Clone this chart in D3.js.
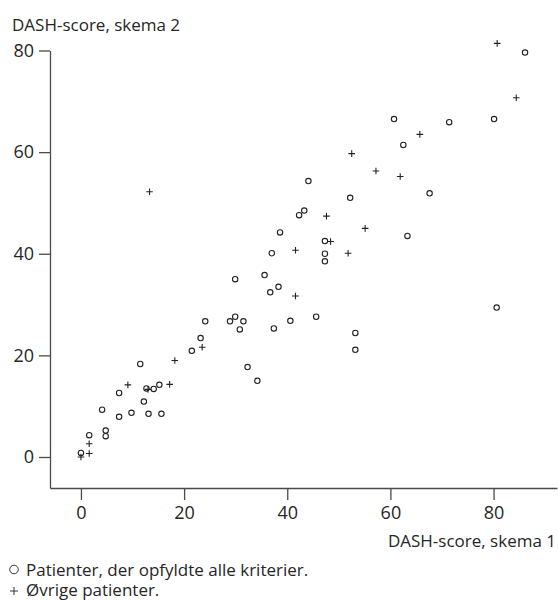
<!DOCTYPE html>
<html>
<head>
<meta charset="utf-8">
<script src="https://cdn.jsdelivr.net/npm/d3@7"></script>
<style>
  body { margin: 0; background: #fff; }
  text { font-family: "Open Sans", sans-serif; fill: #262626; }
</style>
</head>
<body>
<div id="chart"></div>
<script>
// Patients who met all criteria (circles)
var metX = [0, 1.6, 4.8, 4.8, 4.1, 7.4, 7.4, 9.8, 11.5, 12.2, 12.7, 14.1, 13.1, 15.2, 15.6,
  21.5, 23.2, 32.3, 34.2, 24.1, 28.9, 29.9, 31.5, 30.8, 37.4, 40.6, 45.6, 53.2, 53.2, 80.6,
  29.9, 35.6, 36.7, 38.3, 37.0, 38.6, 42.3, 43.3, 44.1, 47.3, 47.3, 47.3, 52.2, 63.3, 67.6,
  62.5, 60.7, 71.4, 80.1, 86.1];
var metY = [0.8, 4.3, 5.2, 4.1, 9.3, 7.9, 12.6, 8.7, 18.3, 10.9, 13.5, 13.4, 8.5, 14.2, 8.5,
  20.9, 23.4, 17.7, 15.0, 26.7, 26.7, 27.6, 26.7, 25.1, 25.3, 26.8, 27.6, 24.4, 21.1, 29.4,
  35.0, 35.8, 32.4, 33.5, 40.1, 44.2, 47.6, 48.5, 54.3, 42.5, 40.0, 38.5, 51.0, 43.5, 51.9,
  61.4, 66.5, 65.9, 66.5, 79.6];

// Other patients (plus signs)
var otherX = [0, 1.6, 1.6, 9.1, 13.0, 17.2, 18.2, 23.5, 13.3, 41.6, 41.6, 47.6, 48.4, 51.8,
  55.1, 52.5, 57.2, 61.9, 65.7, 80.7, 84.4];
var otherY = [0, 0.7, 2.6, 14.2, 13.3, 14.3, 19.0, 21.6, 52.2, 40.7, 31.7, 47.4, 42.4, 40.1,
  45.0, 59.7, 56.3, 55.2, 63.5, 81.4, 70.7];

var ticks = [0, 20, 40, 60, 80];
var xTitle = 'DASH-score, skema 1';
var yTitle = 'DASH-score, skema 2';
var legendLabels = ['Patienter, der opfyldte alle kriterier.', 'Øvrige patienter.'];

var width = 558;
var height = 600;

var svg = d3.select('#chart')
  .append('svg')
  .attr('width', width)
  .attr('height', height);

var x = d3.scaleLinear().domain([-6.0, 92.3]).range([50, 557]);
var y = d3.scaleLinear().domain([-6.1, 80]).range([488, 50.5]);

// Axes
var xAxis = svg.append('g')
  .attr('transform', 'translate(0,488)')
  .call(d3.axisBottom(x).tickValues(ticks).tickSize(12).tickSizeOuter(0).tickPadding(6));

var yAxis = svg.append('g')
  .attr('transform', 'translate(50,0)')
  .call(d3.axisLeft(y).tickValues(ticks).tickSize(11).tickSizeOuter(0).tickPadding(5));

[xAxis, yAxis].forEach(function(g) {
  g.select('.domain').attr('stroke', '#4a4a4a').attr('stroke-width', 1.3);
  g.selectAll('.tick line').attr('stroke', '#4a4a4a').attr('stroke-width', 1.3);
  g.selectAll('.tick text')
    .style('font-family', '"Open Sans", sans-serif')
    .style('font-size', '18px')
    .attr('fill', '#262626');
});

// Axis titles
svg.append('text')
  .attr('x', 12)
  .attr('y', 30.5)
  .style('font-size', '17px')
  .text(yTitle);

svg.append('text')
  .attr('x', 556)
  .attr('y', 547)
  .style('text-anchor', 'end')
  .style('font-size', '17px')
  .text(xTitle);

// Circles
var met = metX.map(function(d, i) { return [d, metY[i]]; });
svg.selectAll('circle.met')
  .data(met)
  .enter().append('circle')
  .attr('class', 'met')
  .attr('cx', function(d) { return x(d[0]); })
  .attr('cy', function(d) { return y(d[1]); })
  .attr('r', 2.7)
  .style('fill', 'none')
  .style('stroke', '#222')
  .style('stroke-width', 1.1);

// Plus signs
var other = otherX.map(function(d, i) { return [d, otherY[i]]; });
function plusPath(cx, cy, s) {
  return 'M' + (cx - s) + ',' + cy + 'H' + (cx + s) + 'M' + cx + ',' + (cy - s) + 'V' + (cy + s);
}
svg.selectAll('path.other')
  .data(other)
  .enter().append('path')
  .attr('class', 'other')
  .attr('d', function(d) { return plusPath(x(d[0]), y(d[1]), 3.3); })
  .style('fill', 'none')
  .style('stroke', '#222')
  .style('stroke-width', 1.1);

// Legend
var legend = svg.selectAll('.legend')
  .data(legendLabels)
  .enter().append('g')
  .attr('class', 'legend')
  .attr('transform', function(d, i) { return 'translate(0,' + (576 + i * 20) + ')'; });

legend.append('text')
  .attr('x', 26)
  .attr('y', 0)
  .style('font-size', '17px')
  .text(function(d) { return d; });

legend.filter(function(d, i) { return i === 0; })
  .append('circle')
  .attr('cx', 14)
  .attr('cy', -6.5)
  .attr('r', 4.3)
  .style('fill', 'none')
  .style('stroke', '#333')
  .style('stroke-width', 1);

legend.filter(function(d, i) { return i === 1; })
  .append('path')
  .attr('d', plusPath(14, -5, 4))
  .style('fill', 'none')
  .style('stroke', '#333')
  .style('stroke-width', 1);
</script>
</body>
</html>
